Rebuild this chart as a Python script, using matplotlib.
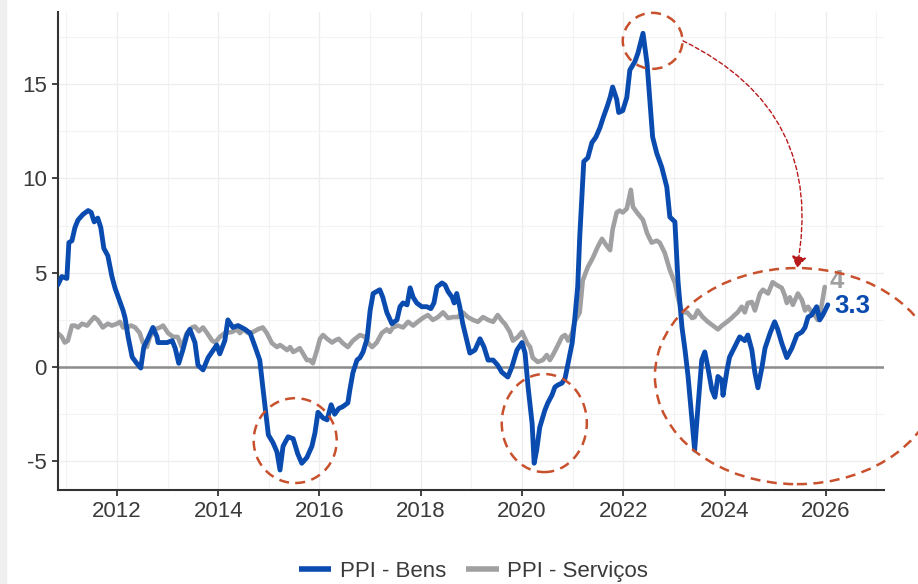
import matplotlib
matplotlib.use("Agg")
import matplotlib.pyplot as plt
from matplotlib.patches import Ellipse, FancyArrowPatch, Rectangle
from matplotlib.ticker import MultipleLocator

plt.rcParams['font.family'] = ['Liberation Sans', 'DejaVu Sans']
plt.rcParams['axes.unicode_minus'] = False

# ---------------- data (decimal years, % y/y) ----------------
bens_x = [2010.83, 2010.91, 2011.01, 2011.05, 2011.11, 2011.17, 2011.23, 2011.33, 2011.43, 2011.49,
          2011.55, 2011.62, 2011.68, 2011.74, 2011.82, 2011.90, 2011.96, 2012.06, 2012.12, 2012.16,
          2012.22, 2012.30, 2012.39, 2012.47, 2012.53, 2012.61, 2012.71, 2012.79, 2012.81, 2012.89,
          2012.99, 2013.09, 2013.15, 2013.22, 2013.30, 2013.38, 2013.44, 2013.54, 2013.60, 2013.70,
          2013.80, 2013.90, 2013.97, 2014.03, 2014.13, 2014.19, 2014.29, 2014.39, 2014.53, 2014.63,
          2014.73, 2014.82, 2014.88, 2014.99, 2015.08, 2015.16, 2015.22, 2015.28, 2015.38, 2015.48,
          2015.57, 2015.65, 2015.75, 2015.85, 2015.91, 2015.97, 2016.07, 2016.15, 2016.23, 2016.30,
          2016.38, 2016.46, 2016.56, 2016.60, 2016.66, 2016.74, 2016.80, 2016.86, 2016.94, 2017.00,
          2017.06, 2017.19, 2017.25, 2017.33, 2017.43, 2017.53, 2017.59, 2017.65, 2017.73, 2017.79,
          2017.85, 2017.92, 2018.02, 2018.12, 2018.20, 2018.26, 2018.32, 2018.42, 2018.48, 2018.54,
          2018.62, 2018.66, 2018.71, 2018.77, 2018.83, 2018.91, 2018.97, 2019.07, 2019.17, 2019.25,
          2019.33, 2019.43, 2019.52, 2019.60, 2019.72, 2019.80, 2019.90, 2020.00, 2020.06, 2020.12,
          2020.20, 2020.24, 2020.29, 2020.35, 2020.45, 2020.51, 2020.59, 2020.65, 2020.71, 2020.79,
          2020.85, 2020.91, 2020.99, 2021.04, 2021.10, 2021.14, 2021.22, 2021.30, 2021.38, 2021.46,
          2021.54, 2021.60, 2021.68, 2021.74, 2021.79, 2021.87, 2021.91, 2021.99, 2022.07, 2022.13,
          2022.23, 2022.29, 2022.39, 2022.47, 2022.53, 2022.58, 2022.66, 2022.76, 2022.86, 2022.92,
          2023.02, 2023.08, 2023.16, 2023.22, 2023.28, 2023.41, 2023.47, 2023.55, 2023.61, 2023.67,
          2023.75, 2023.81, 2023.87, 2023.95, 2023.97, 2024.05, 2024.10, 2024.20, 2024.30, 2024.40,
          2024.46, 2024.54, 2024.60, 2024.66, 2024.74, 2024.80, 2024.90, 2024.99, 2025.05, 2025.13,
          2025.23, 2025.33, 2025.43, 2025.53, 2025.59, 2025.65, 2025.72, 2025.82, 2025.88, 2025.94,
          2026.04]
bens_y = [4.35, 4.8, 4.7, 6.6, 6.7, 7.4, 7.8, 8.1, 8.3, 8.2,
          7.7, 7.9, 7.4, 6.3, 5.9, 4.8, 4.2, 3.45, 3.0, 2.6,
          1.6, 0.53, 0.2, -0.05, 1.06, 1.5, 2.1, 1.6, 1.3, 1.3,
          1.3, 1.4, 1.0, 0.2, 0.9, 1.7, 2.0, 1.3, 0.1, -0.15,
          0.5, 0.9, 1.17, 0.7, 1.4, 2.5, 2.1, 2.2, 2.0, 1.8,
          1.06, 0.37, -1.06, -3.6, -4.0, -4.5, -5.46, -4.2, -3.7, -3.8,
          -4.6, -5.1, -4.8, -4.2, -3.5, -2.4, -2.7, -2.8, -2.0, -2.5,
          -2.2, -2.1, -1.9, -1.2, -0.3, 0.37, 0.5, 0.8, 1.5, 3.0,
          3.9, 4.1, 3.7, 2.9, 2.3, 2.5, 3.2, 3.4, 3.3, 4.2,
          3.7, 3.4, 3.2, 3.2, 3.1, 3.4, 4.25, 4.46, 4.35, 4.0,
          3.7, 3.4, 3.9, 3.2, 2.3, 1.4, 0.74, 0.9, 1.5, 1.06,
          0.37, 0.37, 0.1, -0.27, -0.53, 0.0, 0.9, 1.3, 0.74, -1.06,
          -3.0, -5.1, -4.4, -3.2, -2.3, -1.9, -1.5, -1.06, -0.95, -0.85,
          -0.6, 0.2, 1.27, 2.5, 4.25, 6.9, 10.9, 11.1, 11.9, 12.2,
          12.7, 13.2, 13.8, 14.3, 14.85, 14.2, 13.5, 13.6, 14.3, 15.75,
          16.2, 16.65, 17.7, 16.1, 14.0, 12.2, 11.35, 10.6, 9.55, 7.96,
          7.7, 4.6, 2.1, 0.9, -0.5, -4.4, -2.3, 0.37, 0.8, 0.0,
          -1.2, -1.6, -0.5, -0.7, -1.5, -0.15, 0.53, 1.06, 1.6, 1.4,
          1.7, 0.9, -0.3, -1.1, 0.0, 1.0, 1.8, 2.4, 2.0, 1.27,
          0.5, 1.0, 1.7, 1.86, 2.1, 2.65, 2.76, 3.2, 2.5, 2.76,
          3.3]

serv_x = [2010.83, 2010.91, 2010.97, 2011.03, 2011.11, 2011.17, 2011.23, 2011.31, 2011.41, 2011.47,
          2011.55, 2011.62, 2011.72, 2011.82, 2011.90, 2012.00, 2012.06, 2012.12, 2012.20, 2012.28,
          2012.36, 2012.45, 2012.51, 2012.59, 2012.65, 2012.75, 2012.85, 2012.91, 2013.01, 2013.11,
          2013.20, 2013.28, 2013.38, 2013.48, 2013.54, 2013.62, 2013.70, 2013.78, 2013.88, 2013.94,
          2014.03, 2014.13, 2014.27, 2014.37, 2014.43, 2014.49, 2014.59, 2014.69, 2014.78, 2014.88,
          2014.96, 2015.06, 2015.16, 2015.22, 2015.28, 2015.36, 2015.42, 2015.48, 2015.55, 2015.61,
          2015.67, 2015.75, 2015.81, 2015.87, 2015.95, 2016.01, 2016.07, 2016.15, 2016.25, 2016.30,
          2016.38, 2016.46, 2016.56, 2016.66, 2016.80, 2016.90, 2016.96, 2017.04, 2017.13, 2017.23,
          2017.33, 2017.39, 2017.45, 2017.55, 2017.65, 2017.75, 2017.85, 2017.94, 2018.04, 2018.14,
          2018.24, 2018.34, 2018.44, 2018.54, 2018.64, 2018.73, 2018.83, 2018.93, 2019.03, 2019.13,
          2019.23, 2019.33, 2019.43, 2019.52, 2019.62, 2019.66, 2019.76, 2019.82, 2019.92, 2020.00,
          2020.10, 2020.16, 2020.21, 2020.31, 2020.41, 2020.49, 2020.55, 2020.61, 2020.69, 2020.79,
          2020.85, 2020.91, 2020.99, 2021.04, 2021.14, 2021.20, 2021.30, 2021.40, 2021.50, 2021.58,
          2021.68, 2021.74, 2021.79, 2021.87, 2021.93, 2021.99, 2022.07, 2022.15, 2022.19, 2022.27,
          2022.33, 2022.39, 2022.47, 2022.56, 2022.66, 2022.72, 2022.82, 2022.92, 2023.02, 2023.08,
          2023.16, 2023.26, 2023.36, 2023.41, 2023.47, 2023.57, 2023.67, 2023.77, 2023.87, 2023.95,
          2024.05, 2024.14, 2024.20, 2024.26, 2024.34, 2024.40, 2024.46, 2024.54, 2024.60, 2024.70,
          2024.76, 2024.86, 2024.95, 2025.03, 2025.13, 2025.19, 2025.23, 2025.29, 2025.35, 2025.45,
          2025.53, 2025.59, 2025.65, 2025.72, 2025.78, 2025.84, 2025.92, 2025.98]
serv_y = [1.8, 1.6, 1.3, 1.4, 2.2, 2.2, 2.1, 2.3, 2.2, 2.4,
          2.65, 2.5, 2.1, 2.3, 2.2, 2.3, 2.4, 2.1, 2.1, 2.2,
          2.1, 1.8, 1.3, 1.06, 1.6, 2.0, 2.1, 2.2, 1.8, 1.6,
          1.6, 1.06, 1.8, 2.1, 2.15, 1.9, 2.1, 1.8, 1.4, 1.3,
          1.6, 1.8, 1.86, 2.0, 1.8, 2.0, 1.8, 1.86, 2.0, 2.1,
          1.8, 1.27, 1.06, 1.17, 1.06, 0.9, 1.06, 0.8, 0.9, 1.0,
          0.74, 0.37, 0.37, 0.2, 0.9, 1.5, 1.7, 1.5, 1.3, 1.4,
          1.5, 1.27, 1.06, 1.4, 1.7, 1.6, 1.27, 1.06, 1.3, 1.8,
          2.0, 1.86, 2.1, 2.2, 2.1, 2.4, 2.2, 2.4, 2.6, 2.76,
          2.5, 2.65, 2.9, 2.6, 2.65, 2.65, 2.9, 2.65, 2.5, 2.4,
          2.65, 2.5, 2.4, 2.76, 2.4, 2.3, 1.86, 1.4, 1.6, 1.86,
          1.27, 1.06, 0.5, 0.27, 0.37, 0.64, 0.37, 0.64, 1.06, 1.6,
          1.7, 1.4, 1.8, 2.4, 2.9, 4.6, 5.3, 5.8, 6.4, 6.8,
          6.4, 6.2, 7.3, 8.2, 8.3, 8.2, 8.4, 9.4, 8.5, 8.2,
          8.0, 7.8, 7.1, 6.6, 6.7, 6.6, 6.05, 5.15, 4.46, 3.7,
          2.9, 2.9, 2.6, 2.65, 3.0, 2.65, 2.4, 2.2, 2.0, 2.2,
          2.4, 2.6, 2.76, 2.9, 3.2, 2.9, 3.4, 3.45, 3.0, 3.9,
          4.1, 3.9, 4.5, 4.35, 4.2, 3.8, 3.4, 3.7, 3.3, 3.9,
          3.55, 3.0, 3.2, 2.9, 2.76, 2.5, 3.3, 4.25]

series_names = ["PPI - Bens", "PPI - Serviços"]
end_labels = ["3.3", "4"]
x_ticks = [2012, 2014, 2016, 2018, 2020, 2022, 2024, 2026]
y_ticks = [-5, 0, 5, 10, 15]

# highlight ellipses: (center x, center y, width yrs, height pts)
highlights = [(2015.52, -3.9, 1.64, 4.5),
              (2020.44, -2.97, 1.68, 5.2),
              (2022.58, 17.3, 1.18, 2.97),
              (2025.43, -0.48, 5.61, 11.46)]

BLUE = "#0a4bb0"
GRAY = "#a0a0a2"
RED = "#c8502c"
ARROW = "#b8191b"

fig = plt.figure(figsize=(9.18, 5.84), dpi=100)
fig.patches.append(Rectangle((0, 0), 6 / 918, 1, transform=fig.transFigure,
                             color="#efefef", zorder=0))
ax = fig.add_axes([58 / 918, 94 / 584, (884 - 58) / 918, (490 - 12) / 584])

ax.set_xlim(2010.835, 2027.15)
ax.set_ylim(-6.52, 18.83)

ax.xaxis.set_minor_locator(MultipleLocator(1))
ax.yaxis.set_minor_locator(MultipleLocator(2.5))
ax.set_xticks(x_ticks)
ax.set_xticklabels([str(t) for t in x_ticks])
ax.set_yticks(y_ticks)
ax.set_yticklabels([str(t) for t in y_ticks])

ax.grid(which="major", color="#ededed", lw=0.9)
ax.grid(which="minor", color="#f3f3f3", lw=0.8)
ax.tick_params(which="minor", length=0)
ax.tick_params(which="major", length=4, width=1.3, color="#333333",
               labelsize=16, labelcolor="#3a3a3a", pad=4)
ax.set_axisbelow(True)
for s in ["top", "right"]:
    ax.spines[s].set_visible(False)
for s in ["left", "bottom"]:
    ax.spines[s].set_color("#333333")
    ax.spines[s].set_linewidth(1.5)

ax.axhline(0, color="#8c8c8c", lw=1.8, zorder=1)
ax.plot(serv_x, serv_y, color=GRAY, lw=3.3, solid_joinstyle="round", solid_capstyle="round",
        zorder=2, label=series_names[1])
ax.plot(bens_x, bens_y, color=BLUE, lw=3.5, solid_joinstyle="round", solid_capstyle="round",
        zorder=3, label=series_names[0])

ax.text(bens_x[-1] + 0.12, bens_y[-1] - 0.05, end_labels[0], color=BLUE, fontsize=18.5,
        fontweight="bold", ha="left", va="center", zorder=5)
ax.text(serv_x[-1] + 0.1, serv_y[-1] + 0.3, end_labels[1], color=GRAY, fontsize=18.5,
        fontweight="bold", ha="left", va="center", zorder=4)

for cx, cy, w, h in highlights:
    e = Ellipse((cx, cy), w, h, fill=False, edgecolor=RED, lw=1.8,
                linestyle=(0, (4, 2.6)), clip_on=False, zorder=6)
    ax.add_patch(e)

arr = FancyArrowPatch((2022.58 + 0.6, 17.3), (2025.43, -0.48 + 11.46 / 2),
                      connectionstyle="arc3,rad=-0.38", arrowstyle="-|>,head_length=7,head_width=4.5",
                      color=ARROW, lw=1.0, linestyle=(0, (3, 2)), clip_on=False, zorder=7,
                      shrinkA=0, shrinkB=0)
ax.add_patch(arr)

handles, labels = ax.get_legend_handles_labels()
order = [1, 0]
leg = fig.legend([handles[i] for i in order], [labels[i] for i in order],
                 loc="center", bbox_to_anchor=(0.516, 0.022), ncol=2, frameon=False,
                 fontsize=16, handlelength=1.45, handletextpad=0.4, columnspacing=0.9,
                 labelcolor="#3a3a3a")
for line in leg.get_lines():
    line.set_linewidth(4)
    line.set_solid_capstyle("butt")

fig.savefig("out.png", dpi=100)
